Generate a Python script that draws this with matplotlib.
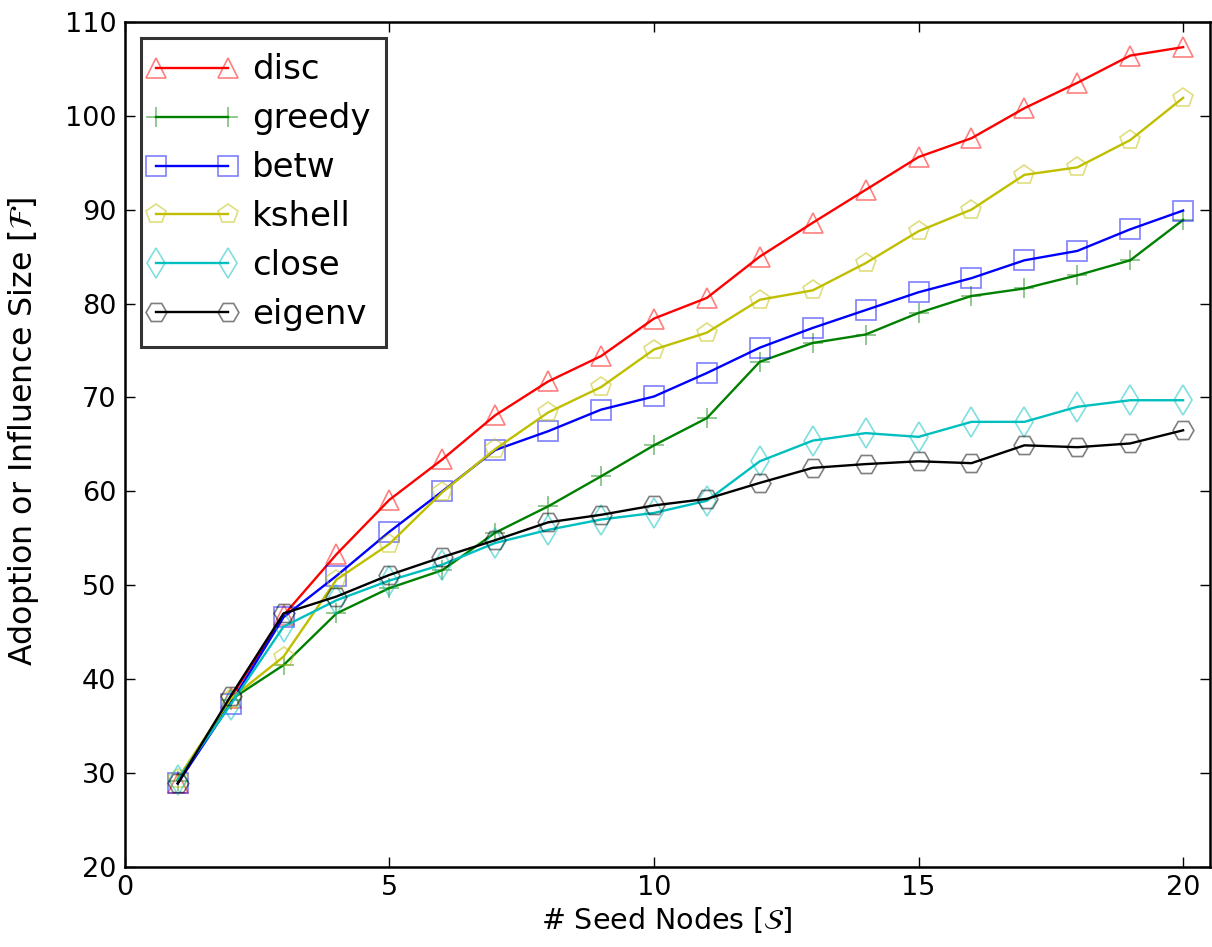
import numpy as np
import matplotlib
matplotlib.use('Agg')
import matplotlib.pyplot as plt
from matplotlib.colors import to_rgba
from matplotlib.legend_handler import HandlerLine2D

# seed node counts
seeds = list(range(1, 21))

# influence size per method
disc = [28.9, 38.0, 46.8, 53.3, 59.1, 63.4, 68.1, 71.7, 74.4, 78.4, 80.6, 85.0,
        88.6, 92.1, 95.6, 97.6, 100.8, 103.5, 106.4, 107.3]
greedy = [29.2, 37.8, 41.5, 47.0, 49.7, 51.6, 55.6, 58.4, 61.6, 64.9, 67.8, 73.8,
          75.8, 76.7, 79.0, 80.8, 81.6, 83.0, 84.6, 88.9]
betw = [28.9, 37.4, 46.6, 51.0, 55.7, 60.0, 64.4, 66.4, 68.7, 70.1, 72.6, 75.3,
        77.4, 79.3, 81.2, 82.7, 84.6, 85.6, 87.9, 89.9]
kshell = [29.4, 37.9, 42.4, 50.6, 54.4, 59.9, 64.5, 68.4, 71.1, 75.1, 76.9, 80.4,
          81.4, 84.3, 87.7, 90.0, 93.7, 94.5, 97.4, 101.9]
close = [29.3, 37.3, 45.6, 48.4, 50.5, 52.2, 54.5, 55.9, 57.0, 57.7, 59.0, 63.2,
         65.4, 66.2, 65.8, 67.4, 67.4, 69.0, 69.7, 69.7]
eigenv = [28.9, 38.2, 47.0, 48.8, 51.1, 53.0, 54.8, 56.7, 57.5, 58.5, 59.2, 60.9,
          62.5, 62.9, 63.2, 63.0, 64.9, 64.7, 65.1, 66.5]

series = [('disc', disc, 'r', '^'),
          ('greedy', greedy, 'g', '+'),
          ('betw', betw, 'b', 's'),
          ('kshell', kshell, 'y', 'p'),
          ('close', close, 'c', 'd'),
          ('eigenv', eigenv, 'k', 'H')]

# old-style matplotlib colours
oldcols = {'r': (1, 0, 0), 'g': (0, 0.5, 0), 'b': (0, 0, 1),
           'y': (0.75, 0.75, 0), 'c': (0, 0.75, 0.75), 'k': (0, 0, 0)}

plt.rcParams['font.family'] = 'DejaVu Sans'
plt.rcParams['xtick.direction'] = 'in'
plt.rcParams['ytick.direction'] = 'in'
plt.rcParams['xtick.top'] = True
plt.rcParams['ytick.right'] = True

fig = plt.figure(figsize=(12.12, 9.47), dpi=100)
ax = fig.add_axes([0.103, 0.0845, 0.895, 0.8925])

lines = []
for name, vals, c, m in series:
    col = oldcols[c]
    ln, = ax.plot(seeds, vals, '-', color=col, lw=1.7, marker=m, ms=15,
                  mfc='none', mec=to_rgba(col, 0.5), mew=1.2, label=name)
    lines.append(ln)

ax.set_xlim(0, 20.5)
ax.set_ylim(20, 110)
ax.set_xticks([0, 5, 10, 15, 20])
ax.set_yticks(np.arange(20, 111, 10))
ax.tick_params(labelsize=19.5, length=7, width=1, pad=6)
for s in ax.spines.values():
    s.set_linewidth(1.8)

ax.set_xlabel(r'# Seed Nodes [$\mathcal{S}$]', fontsize=20.5, labelpad=3)
ax.set_ylabel(r'Adoption or Influence Size [$\mathcal{F}$]', fontsize=22.8)
ax.yaxis.set_label_coords(-0.077, 0.515)

leg = ax.legend(loc='upper left', numpoints=2, fontsize=24.5, fancybox=False,
                handlelength=2.1, labelspacing=0.47, borderaxespad=0.48,
                handletextpad=0.7, borderpad=0.45,
                handler_map={ln: HandlerLine2D(marker_pad=0) for ln in lines})
leg.get_frame().set_edgecolor('black')
leg.get_frame().set_linewidth(2.2)

fig.savefig('out.png', dpi=100, facecolor='white')
